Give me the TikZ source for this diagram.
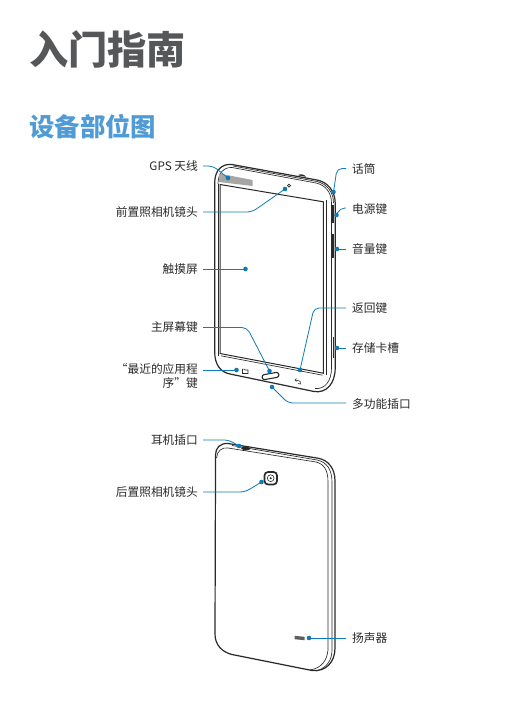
\documentclass[tikz,border=0pt]{standalone}
\usepackage{fontspec}
\setmainfont{Noto Sans CJK SC}
\usetikzlibrary{calc}
\definecolor{lead}{HTML}{0F7AB8}
\definecolor{heading}{HTML}{4F9BD5}
\definecolor{titlegray}{HTML}{555759}
\definecolor{ink}{HTML}{2A2A2A}
\tikzset{
  lab/.style={font=\fontsize{11.7}{14}\selectfont,text=ink,inner sep=0pt},
  labL/.style={lab,anchor=east,align=right},
  labR/.style={lab,anchor=west,align=left},
  leader/.style={draw=lead,line width=0.8pt,rounded corners=5pt},
  dot/.style={circle,fill=lead,inner sep=0pt,minimum size=4.6pt},
  body/.style={draw=ink,line width=1.2pt},
  fine/.style={draw=ink,line width=0.65pt},
}
\begin{document}
\begin{tikzpicture}[x=1pt,y=-1pt]
\useasboundingbox (0,0) rectangle (531,725);
\fill[white] (0,0) rectangle (531,725);
% headings
\node[anchor=west,inner sep=0pt,text=titlegray,font=\fontsize{39.2}{41}\selectfont\bfseries] (title) at (29,49) {入门指南};
\node[anchor=west,inner sep=0pt,text=heading,font=\fontsize{25.4}{27}\selectfont\bfseries] (sub) at (29,127) {设备部位图};
% front device
\draw[body] (214.7,340) -- (214.7,183) .. controls (214.7,170) and (222,163.5) .. (232,164.5)
  -- (317,180) .. controls (327,182) and (335,190) .. (335.2,203)
  -- (335.2,368) .. controls (335.2,384) and (326,393.5) .. (314,391.5)
  -- (230,374) .. controls (220,372) and (214.7,364) .. (214.7,352) -- cycle;
\draw[fine] (218,184) .. controls (218,173) and (224,167) .. (232,167.5)
  -- (316,183) .. controls (325,185) and (331.5,192) .. (331.5,203)
  -- (331.5,368) .. controls (331.5,381) and (325,389.5) .. (315,388.5);
\draw[fine] (233,166) -- (317,181.5) .. controls (327,184) and (333.5,192) .. (333.5,203);
\draw[body,line width=1pt] (220,184.5) -- (323.3,201.8) -- (323.3,373.2) -- (220,353.5) -- cycle;
\draw[fine] (221,355.8) -- (322.5,375.2);
\draw[fine] (218,184) -- (218,356);
\draw[fine] (326.5,200) -- (326.5,375);
% top jack bump
\fill[ink] (298,175.3) .. controls (300,173.5) and (304,174) .. (306,176.8) -- cycle;
% gps patch
\fill[black!35] (219,173.5) -- (252.5,180) -- (252.5,186) -- (219,182) -- cycle;
% front camera
\draw[ink,line width=0.8pt] (289,185.6) circle (1.5);
% side keys
\draw[ink,line width=1.8pt] (333,205) -- (333,223);
\draw[ink,line width=1.8pt] (333,234) -- (333,258);
\draw[ink,line width=1.4pt] (333.5,337) -- (333.5,358);
% home key
\draw[ink,line width=1.1pt,rounded corners=2.4pt,rotate around={10:(270.5,376)}] (262,373.5) rectangle (279,378.5);
% recents icon
\draw[ink,line width=0.55pt] (242.5,370.5) -- (242.5,373.5) -- (248,373.5) -- (248,370) -- (245,370) -- (244.5,369.2) -- (242.5,369.2) -- cycle;
% back icon
\draw[ink,line width=0.55pt] (298,383.5) -- (300.5,384) .. controls (302,382) and (300,380.5) .. (295,380);
\draw[ink,line width=0.55pt] (296.5,378.5) -- (295,380) -- (296.5,381.5);
% rear device
\draw[body] (215.5,470) -- (215.5,455) .. controls (215.5,448) and (220,443) .. (228,443.5)
  -- (318,458.2) .. controls (328,460) and (335,468) .. (335,481)
  -- (335,648) .. controls (335,662) and (326,672) .. (312,670.5)
  -- (232,654.5) .. controls (222,652) and (215,645) .. (215,634) -- cycle;
\draw[fine] (216.5,458) .. controls (217,451) and (222,447) .. (228,448)
  -- (316,462) .. controls (324,464) and (328,470) .. (328,482)
  -- (328,650) .. controls (327,660) and (322,668) .. (310,670);
\draw[fine] (232,445.5) -- (317,460) .. controls (327,462) and (332,470) .. (332,482)
  -- (332,650) .. controls (332,660) and (327,668) .. (316,671);
% rear jack
\fill[ink] (241,448.2) .. controls (243,445) and (248,445.5) .. (250.5,449) .. controls (248,451) and (243,451) .. (241,448.2) -- cycle;
% rear camera
\draw[ink,line width=1.7pt,rounded corners=3.5pt] (264.5,472) rectangle (277,484.5);
\draw[ink,line width=0.6pt] (270.7,478.2) circle (3.4);
\fill[ink] (270.7,478.2) circle (1.1);
% speaker
\fill[ink!75] (294.5,635.8) -- (304.5,636.8) -- (304.5,640.2) -- (294.5,639.2) -- cycle;
% labels
\node[labL] (gps) at (198,166) {GPS 天线};
\node[labL] (fcam) at (198,212) {前置照相机镜头};
\node[labL] (touch) at (198,269) {触摸屏};
\node[labL] (home) at (198,327) {主屏幕键};
\node[labL] (recent) at (198,376.5) {“最近的应用程\\序”键};
\node[labL] (jack) at (198,440) {耳机插口};
\node[labL] (rcam) at (198,492) {后置照相机镜头};
\node[labR] (mic) at (352,169) {话筒};
\node[labR] (power) at (352,209) {电源键};
\node[labR] (vol) at (352,249.5) {音量键};
\node[labR] (back) at (352,308.5) {返回键};
\node[labR] (card) at (352,348) {存储卡槽};
\node[labR] (usb) at (352,404) {多功能插口};
\node[labR] (spk) at (352,638) {扬声器};
% connector ends
\node[dot] (dgps) at (228,178) {};
\node[dot] (dfcam) at (285,189) {};
\node[dot] (dtouch) at (245.5,269) {};
\node[dot] (dhome) at (269.5,371) {};
\node[dot] (drecent) at (236.5,370) {};
\node[dot] (djack) at (239,446) {};
\node[dot] (drcam) at (261.5,482) {};
\node[dot] (dmic) at (333.5,192) {};
\node[dot] (dpower) at (336.5,215) {};
\node[dot] (dvol) at (337,249) {};
\node[dot] (dback) at (300,370) {};
\node[dot] (dcard) at (337,348) {};
\node[dot] (dusb) at (272,387) {};
\node[dot] (dspk) at (309,638) {};
% connectors
\draw[leader] ($(gps.east)+(5,0)$) -- (213,166) -- (dgps.center);
\draw[leader] ($(fcam.east)+(5,0)$) -- (252,212) -- (dfcam.center);
\draw[leader] ($(touch.east)+(5,0)$) -- (dtouch.center);
\draw[leader] (203,327.5) -- (247,327.5) -- (dhome.center);
\draw[leader] (203,370) -- (drecent.center);
\draw[leader] ($(jack.east)+(5,0)$) -- (229,440) -- (djack.center);
\draw[leader] ($(rcam.east)+(5,0)$) -- (245,492) -- (drcam.center);
\draw[leader] (346,168.5) -- (337,168.5) -- (dmic.center);
\draw[leader] (346,208) -- (340,208) -- (dpower.center);
\draw[leader] (346,249) -- (dvol.center);
\draw[leader] (346,308) -- (314,308) -- (dback.center);
\draw[leader] (346,348) -- (dcard.center);
\draw[leader] (346,403) -- (288,403) -- (dusb.center);
\draw[leader] (346,638) -- (dspk.center);
\end{tikzpicture}
\end{document}
